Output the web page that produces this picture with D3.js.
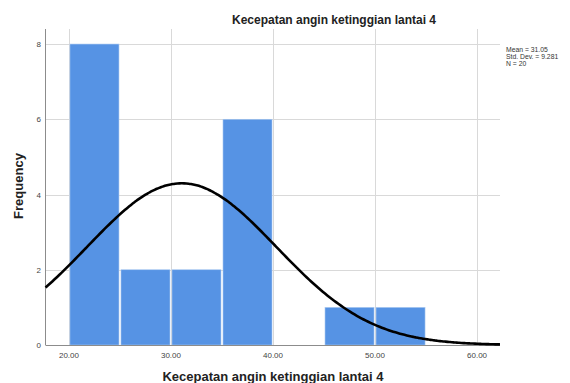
<!DOCTYPE html>
<html>
<head>
<meta charset="utf-8">
<script src="https://cdn.jsdelivr.net/npm/d3@7"></script>
<style>
  html, body { margin: 0; padding: 0; background: #fff; }
  svg { display: block; font-family: "Liberation Sans", Arial, sans-serif; }
</style>
</head>
<body>
<svg id="chart" width="570" height="383"></svg>
<script>
// Histogram bins (lower edge, upper edge) and counts
const binStarts = [20, 25, 30, 35, 40, 45, 50];
const binEnds   = [25, 30, 35, 40, 45, 50, 55];
const counts    = [8, 2, 2, 6, 0, 1, 1];

// Tick labels
const xTicks = [20, 30, 40, 50, 60];
const yTicks = [0, 2, 4, 6, 8];

// Summary statistics
const mean = 31.05;
const stdDev = 9.281;
const n = 20;
const binWidth = 5;

const titleText = "Kecepatan angin ketinggian lantai 4";
const xTitle = "Kecepatan angin ketinggian lantai 4";
const yTitle = "Frequency";

const svg = d3.select("#chart");

const plot = { left: 45.5, right: 500, top: 29, bottom: 345 };

const x = d3.scaleLinear()
  .domain([17.7, 62.25])
  .range([plot.left, plot.right]);

const y = d3.scaleLinear()
  .domain([0, 8.4])
  .range([plot.bottom, plot.top]);

// Gridlines
const grid = svg.append("g").attr("stroke", "#d9d9d9").attr("stroke-width", 1);
grid.selectAll("line.v").data(xTicks).enter().append("line")
  .attr("x1", d => Math.round(x(d)) + 0.5).attr("x2", d => Math.round(x(d)) + 0.5)
  .attr("y1", plot.top).attr("y2", plot.bottom);
grid.selectAll("line.h").data(yTicks.filter(d => d > 0)).enter().append("line")
  .attr("x1", plot.left).attr("x2", plot.right)
  .attr("y1", d => Math.round(y(d)) + 0.5).attr("y2", d => Math.round(y(d)) + 0.5);

// Bars
const bins = binStarts.map((s, i) => ({ x0: s, x1: binEnds[i], count: counts[i] }));
svg.append("g").selectAll("rect").data(bins.filter(d => d.count > 0)).enter().append("rect")
  .attr("x", d => x(d.x0) + 1)
  .attr("width", d => x(d.x1) - x(d.x0) - 2)
  .attr("y", d => y(d.count))
  .attr("height", d => y(0) - y(d.count))
  .attr("fill", "#5693e4")
  .attr("stroke", "#a9c8f0")
  .attr("stroke-width", 0.6);

// Axis lines
svg.append("line")
  .attr("x1", plot.left).attr("x2", plot.left)
  .attr("y1", plot.top).attr("y2", plot.bottom)
  .attr("stroke", "#8c8c8c").attr("stroke-width", 1);
svg.append("line")
  .attr("x1", plot.left).attr("x2", plot.right)
  .attr("y1", plot.bottom + 0.5).attr("y2", plot.bottom + 0.5)
  .attr("stroke", "#8c8c8c").attr("stroke-width", 1);

// Normal curve scaled to the histogram
const pdf = v => Math.exp(-0.5 * Math.pow((v - mean) / stdDev, 2)) / (stdDev * Math.sqrt(2 * Math.PI));
const curvePts = d3.range(0, 201).map(i => {
  const v = x.domain()[0] + (x.domain()[1] - x.domain()[0]) * i / 200;
  return [v, n * binWidth * pdf(v)];
});
svg.append("path")
  .datum(curvePts)
  .attr("fill", "none")
  .attr("stroke", "#000")
  .attr("stroke-width", 2.6)
  .attr("d", d3.line().x(d => x(d[0])).y(d => y(d[1])).curve(d3.curveBasis));

// Tick labels
svg.append("g").selectAll("text").data(xTicks).enter().append("text")
  .attr("x", d => x(d))
  .attr("y", 358)
  .attr("text-anchor", "middle")
  .attr("font-size", 8)
  .attr("fill", "#444")
  .text(d => d.toFixed(2));
svg.append("g").selectAll("text").data(yTicks).enter().append("text")
  .attr("x", 41)
  .attr("y", d => y(d) + 3)
  .attr("text-anchor", "end")
  .attr("font-size", 8)
  .attr("fill", "#444")
  .text(d => d);

// Titles
svg.append("text")
  .attr("x", 334).attr("y", 24)
  .attr("text-anchor", "middle")
  .attr("font-size", 12)
  .attr("font-weight", "bold")
  .attr("fill", "#222")
  .text(titleText);
svg.append("text")
  .attr("x", 273).attr("y", 381)
  .attr("text-anchor", "middle")
  .attr("font-size", 13)
  .attr("font-weight", "bold")
  .attr("fill", "#222")
  .text(xTitle);
svg.append("text")
  .attr("transform", "translate(23,186) rotate(-90)")
  .attr("text-anchor", "middle")
  .attr("font-size", 13)
  .attr("font-weight", "bold")
  .attr("fill", "#222")
  .text(yTitle);

// Statistics box
const stats = [
  "Mean = " + mean.toFixed(2),
  "Std. Dev. = " + stdDev.toFixed(3),
  "N = " + n
];
svg.append("g").selectAll("text").data(stats).enter().append("text")
  .attr("x", 506)
  .attr("y", (d, i) => 52 + i * 7.2)
  .attr("font-size", 6.8)
  .attr("fill", "#333")
  .text(d => d);
</script>
</body>
</html>
